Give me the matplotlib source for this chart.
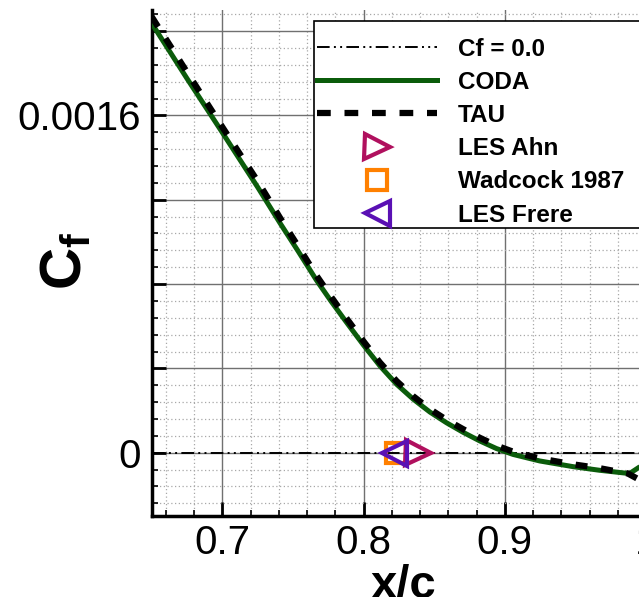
import numpy as np
import matplotlib
matplotlib.use("Agg")
import matplotlib.pyplot as plt
from matplotlib.ticker import FixedLocator, FixedFormatter
from matplotlib.lines import Line2D
from matplotlib.patches import Rectangle

plt.rcParams['font.family'] = ['Liberation Sans', 'DejaVu Sans']
plt.rcParams['mathtext.fontset'] = 'custom'
plt.rcParams['mathtext.rm'] = 'Liberation Sans'
plt.rcParams['mathtext.bf'] = 'Liberation Sans:bold'

# ---- data ----
coda_x = [0.65, 0.675, 0.70, 0.725, 0.7408, 0.7538, 0.7667, 0.7774, 0.7880, 0.7998,
          0.8116, 0.8234, 0.8352, 0.8470, 0.8588, 0.8705, 0.8823, 0.8941, 0.9059,
          0.9248, 0.9484, 0.967, 0.986, 0.9885, 0.9953, 1.0]
coda_cf = [0.002037, 0.001775, 0.001519, 0.001260, 0.001090, 0.000955, 0.000818, 0.000715,
           0.000618, 0.000512, 0.000412, 0.000325, 0.000254, 0.000193, 0.000142, 0.000097,
           0.000056, 0.000020, -0.000008, -0.000039, -0.000066, -0.000083, -0.000097,
           -0.000098, -0.000068, -0.000045]
tau_x = [0.65, 0.675, 0.70, 0.725, 0.7408, 0.7538, 0.7667, 0.7774, 0.7880, 0.7998,
         0.8116, 0.8234, 0.8352, 0.8470, 0.8588, 0.8705, 0.8823, 0.8941, 0.9059,
         0.9248, 0.9484, 0.967, 0.987, 0.9953]
tau_cf = [0.002068, 0.001805, 0.001545, 0.001288, 0.001115, 0.000978, 0.000840, 0.000736,
          0.000637, 0.000530, 0.000428, 0.000340, 0.000268, 0.000207, 0.000156, 0.000112,
          0.000071, 0.000034, 0.000005, -0.000027, -0.000055, -0.000073, -0.000098,
          -0.000128]
les_ahn_x = [0.8385]
les_ahn_cf = [0.0]
wadcock_x = [0.8231]
wadcock_cf = [0.0]
les_frere_x = [0.8215]
les_frere_cf = [0.0]

xlim = (0.65, 1.0)
ylim = (-0.0003, 0.0021)
x_major = [0.7, 0.8, 0.9, 1.0]
x_major_labels = ["0.7", "0.8", "0.9", "1"]
y_major = [0.0, 0.0004, 0.0008, 0.0012, 0.0016, 0.0020]
y_major_labels = ["0", "", "", "", "0.0016", ""]
legend_labels = ['Cf = 0.0', 'CODA', 'TAU', 'LES Ahn', 'Wadcock 1987', 'LES Frere']

W, H = 639, 597
fig = plt.figure(figsize=(W / 100, H / 100), dpi=100)
left_px, right_px, top_px, bot_px = 151.7, 646.0, 10.0, 516.0
ax = fig.add_axes([left_px / W, 1 - bot_px / H, (right_px - left_px) / W, (bot_px - top_px) / H])
ax.set_xlim(*xlim)
ax.set_ylim(*ylim)

# ticks
ax.xaxis.set_major_locator(FixedLocator(x_major))
ax.xaxis.set_major_formatter(FixedFormatter(x_major_labels))
ax.xaxis.set_minor_locator(FixedLocator(np.round(np.arange(0.66, 1.0, 0.02), 4)))
ax.yaxis.set_major_locator(FixedLocator(y_major))
ax.yaxis.set_major_formatter(FixedFormatter(y_major_labels))
ax.yaxis.set_minor_locator(FixedLocator(np.round(np.arange(-0.00024, 0.00211, 0.00008), 6)))
ax.tick_params(which='major', direction='in', length=10, width=2, labelsize=29, pad=6,
               top=False, right=False)
ax.tick_params(which='minor', direction='in', length=4.5, width=1.2, top=False, right=False)
ax.tick_params(axis='y', which='major', pad=8)

ax.grid(which='major', color='#707070', linestyle='-', linewidth=1.0)
ax.grid(which='minor', color='#a8a8a8', linestyle=(0, (1, 2)), linewidth=0.9)
ax.set_axisbelow(True)

for s in ['top', 'right']:
    ax.spines[s].set_visible(False)
for s in ['left', 'bottom']:
    ax.spines[s].set_linewidth(2.5)

zero_style = (0, (6.5, 2.2, 1, 2.2, 1, 2.2))
ax.axhline(0.0, color='black', lw=1.4, linestyle=zero_style, zorder=3)
ax.plot(coda_x, coda_cf, color='#0b5c0b', lw=3.6, zorder=4, solid_capstyle='butt',
        solid_joinstyle='round')
ax.plot(tau_x, tau_cf, color='black', lw=4.5, linestyle=(0, (1.9, 2.2)), zorder=5)

ax.plot(wadcock_x, wadcock_cf, marker='s', ms=15, mfc='none', mec='#ff8000', mew=3,
        linestyle='none', zorder=6)
ax.plot(les_ahn_x, les_ahn_cf, marker='>', ms=18, mfc='none', mec='#b0105e', mew=3,
        linestyle='none', zorder=7)
ax.plot(les_frere_x, les_frere_cf, marker='<', ms=18, mfc='none', mec='#5a10b4', mew=3,
        linestyle='none', zorder=8)

ax.set_xlabel('x/c', fontsize=34, fontweight='bold', labelpad=0)
ax.xaxis.set_label_coords(0.51, -0.093, transform=ax.transAxes)
ax.xaxis.label.set_va('top')
ax.set_ylabel(r'$\mathbf{C_f}$', fontsize=42, labelpad=0)
ax.yaxis.set_label_coords(-0.118, 0.505)

handles = [
    Line2D([], [], color='black', lw=1.4, linestyle=zero_style),
    Line2D([], [], color='#0b5c0b', lw=3.6),
    Line2D([], [], color='black', lw=4.5, linestyle=(0, (2.2, 2.2))),
    Line2D([], [], marker='>', ms=18, mfc='none', mec='#b0105e', mew=3, linestyle='none'),
    Line2D([], [], marker='s', ms=15, mfc='none', mec='#ff8000', mew=3, linestyle='none'),
    Line2D([], [], marker='<', ms=18, mfc='none', mec='#5a10b4', mew=3, linestyle='none'),
]

# legend frame (box extends past the right edge, as in the reference)
frame = Rectangle((314 / W, 1 - 228 / H), 400 / W, (228 - 21) / H, transform=fig.transFigure,
                  facecolor='white', edgecolor='black', linewidth=1.2, zorder=9)
fig.patches.append(frame)

leg = fig.legend(handles, legend_labels, loc='upper left',
                 bbox_to_anchor=(317 / W, 1 - 37.5 / H), bbox_transform=fig.transFigure,
                 prop={'weight': 'bold', 'size': 17.5}, frameon=False,
                 borderpad=0, labelspacing=0.42,
                 handlelength=4.94, handletextpad=0.86, borderaxespad=0)
leg.set_zorder(10)

fig.savefig('out.png', dpi=100)
